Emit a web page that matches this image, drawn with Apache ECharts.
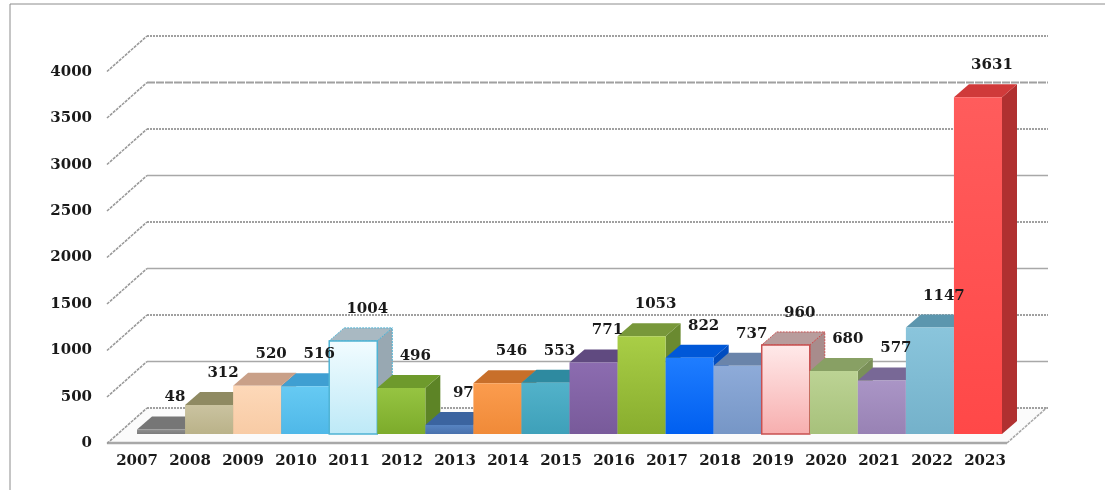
<!DOCTYPE html>
<html>
<head>
<meta charset="utf-8">
<script src="https://cdn.jsdelivr.net/npm/echarts@6/dist/echarts.min.js"></script>
<style>
  html, body { margin: 0; padding: 0; background: #fff; }
  #chart { width: 1105px; height: 490px; }
</style>
</head>
<body>
<div id="chart"></div>
<script>
// 数据
const years = ['2007', '2008', '2009', '2010', '2011', '2012', '2013', '2014', '2015',
  '2016', '2017', '2018', '2019', '2020', '2021', '2022', '2023'];
const values = [48, 312, 520, 516, 1004, 496, 97, 546, 553, 771, 1053, 822, 737, 960, 680, 577, 1147, 3631];
const ticks = [0, 500, 1000, 1500, 2000, 2500, 3000, 3500, 4000];

// 每根柱子的颜色: 正面上/下, 顶面, 侧面, 边框
const barColors = [
  ['#8e8e8e', '#7c7c7c', '#767676', '#646464', null],
  ['#cac3a0', '#bab289', '#8f8a62', '#7d7750', null],
  ['#fdd8b8', '#f8cba5', '#c9a088', '#b08570', null],
  ['#66caf3', '#4fb8e8', '#3f9fd2', '#3388b8', null],
  ['#f2fcff', '#bde9f7', '#a9b9c2', '#98a8b2', '#4fb3d4'],
  ['#96c442', '#7cab2b', '#6e9a2c', '#5d8426', null],
  ['#5784c2', '#4870ac', '#3b64a0', '#335890', null],
  ['#fb9c4e', '#f08a38', '#c86f2a', '#b06020', null],
  ['#52b2ca', '#3ea0b9', '#2e8aa0', '#287a90', null],
  ['#8c6cb0', '#785a9a', '#604a80', '#544070', null],
  ['#a9ce46', '#88ad2e', '#78983a', '#6a8a30', null],
  ['#1f7dff', '#005ff0', '#0058d8', '#004cc0', null],
  ['#8eabd9', '#7696c6', '#6a84aa', '#5e7898', null],
  ['#ffeaea', '#f7aeae', '#b89c9c', '#a88c8c', '#c85050'],
  ['#bcd394', '#a7c17b', '#88a064', '#7a9058', null],
  ['#aa95c6', '#9882b4', '#786896', '#6a5c86', null],
  ['#8ac5dc', '#74b1ca', '#5c96ae', '#4f889e', null],
  ['#ff5c5c', '#ff4848', '#d03a3a', '#b03030', null]
];

// 背景网格线样式(从0到4000)
const gridLineKinds = ['wavy', 'solid', 'wavy', 'solid', 'wavy', 'solid', 'wavy', 'dashed', 'wavy'];

const WALL_DX = 40, WALL_DY = -35.5;   // 前平面 -> 后墙
const BAR_DX = 15, BAR_DY = -13;       // 柱子深度
const FONT = 'DejaVu Serif';

const chart = echarts.init(document.getElementById('chart'));

const labelStyle = { fontFamily: FONT, fontWeight: 'bold', fontSize: 15, color: '#1a1a1a' };

function lineStyleOf(kind) {
  if (kind === 'wavy') return { stroke: '#a0a0a0', lineWidth: 2, lineDash: [2, 1] };
  if (kind === 'dashed') return { stroke: '#a0a0a0', lineWidth: 2, lineDash: [8, 1] };
  return { stroke: '#a8a8a8', lineWidth: 1.6 };
}

// 后墙网格线
function renderWallLine(params, api) {
  const v = api.value(1);
  const p0 = api.coord([0, v]);
  const p1 = api.coord([1, v]);
  const st = lineStyleOf(gridLineKinds[params.dataIndex]);
  return {
    type: 'group',
    children: [
      { type: 'line', shape: { x1: p0[0], y1: p0[1], x2: p1[0], y2: p1[1] }, style: st },
      { type: 'line', shape: { x1: p0[0] - WALL_DX, y1: p0[1] - WALL_DY, x2: p0[0], y2: p0[1] },
        style: { stroke: '#999', lineWidth: 1.6, lineDash: [3, 1] } }
    ]
  };
}

// 地板
function renderFloor(params, api) {
  const a = api.coord([0, 0]);
  const b = api.coord([1, 0]);
  return {
    type: 'group',
    children: [
      { type: 'polygon', shape: { points: [a, b, [b[0] + WALL_DX, b[1] + WALL_DY], [a[0] + WALL_DX, a[1] + WALL_DY]] },
        style: { fill: '#fbfbfb' } },
      { type: 'line', shape: { x1: a[0], y1: a[1], x2: b[0], y2: b[1] },
        style: { stroke: '#a8a8a8', lineWidth: 2.5 } },
      { type: 'line', shape: { x1: b[0], y1: b[1], x2: b[0] + WALL_DX, y2: b[1] + WALL_DY },
        style: { stroke: '#a8a8a8', lineWidth: 1.6, lineDash: [3, 1] } }
    ]
  };
}

// 3D 柱子
function renderBar(params, api) {
  const idx = api.value(0);
  const val = api.value(1);
  const base = api.coord([idx, 0]);
  const top = api.coord([idx, val]);
  const w = api.size([1, 0])[0];
  const l = base[0] - w / 2, r = base[0] + w / 2;
  const yb = base[1], yt = top[1];
  const c = barColors[params.dataIndex];
  const border = c[4];
  return {
    type: 'group',
    children: [
      { type: 'polygon',
        shape: { points: [[r, yt], [r + BAR_DX, yt + BAR_DY], [r + BAR_DX, yb + BAR_DY], [r, yb]] },
        style: { fill: c[3], stroke: border || null, lineWidth: border ? 1 : 0, lineDash: border ? [2, 1] : null } },
      { type: 'polygon',
        shape: { points: [[l, yt], [r, yt], [r + BAR_DX, yt + BAR_DY], [l + BAR_DX, yt + BAR_DY]] },
        style: { fill: c[2], stroke: border || null, lineWidth: border ? 1 : 0, lineDash: border ? [2, 1] : null } },
      { type: 'rect',
        shape: { x: l, y: yt, width: w, height: yb - yt },
        style: {
          fill: new echarts.graphic.LinearGradient(0, 0, 0, 1, [
            { offset: 0, color: c[0] },
            { offset: 1, color: c[1] }
          ]),
          stroke: border || null,
          lineWidth: border ? 1.5 : 0
        } }
    ]
  };
}

// 数值标签 (放在所有柱子之上)
function renderValueLabel(params, api) {
  const idx = api.value(0);
  const val = api.value(1);
  const top = api.coord([idx, val]);
  return {
    type: 'text',
    x: top[0] + 14, y: top[1] - 32,
    style: {
      text: String(val), align: 'center', verticalAlign: 'middle',
      font: 'bold 15px "' + FONT + '"', fill: '#1a1a1a'
    }
  };
}

const option = {
  backgroundColor: '#fff',
  animation: false,
  graphic: [
    { type: 'rect', shape: { x: 10, y: 4, width: 1200, height: 600 },
      style: { fill: 'none', stroke: '#8c8c8c', lineWidth: 1 } }
  ],
  grid: [
    { left: 147, right: 57, top: 36, bottom: 82 },   // 后墙
    { left: 107, right: 98, top: 72, bottom: 47 },   // 前平面
    { left: 137, right: 103, top: 63, bottom: 56 },  // 柱子
    { left: 137, right: 120, top: 72, bottom: 47 }   // 年份标签
  ],
  xAxis: [
    { gridIndex: 0, type: 'value', min: 0, max: 1, show: false },
    { gridIndex: 1, type: 'value', min: 0, max: 1, show: false },
    { gridIndex: 2, type: 'category', data: values.map((v, i) => i), show: false },
    { gridIndex: 3, type: 'category', data: years, boundaryGap: false,
      axisLine: { show: false }, axisTick: { show: false },
      axisLabel: Object.assign({ margin: 11, interval: 0 }, labelStyle) }
  ],
  yAxis: [
    { gridIndex: 0, type: 'value', min: 0, max: 4000, interval: 500, show: false },
    { gridIndex: 1, type: 'value', min: 0, max: 4000, interval: 500,
      axisLine: { show: false }, axisTick: { show: false }, splitLine: { show: false },
      axisLabel: Object.assign({ margin: 15, formatter: v => String(v) }, labelStyle) },
    { gridIndex: 2, type: 'value', min: 0, max: 4000, show: false },
    { gridIndex: 3, type: 'value', min: 0, max: 4000, show: false }
  ],
  series: [
    {
      type: 'custom', xAxisIndex: 1, yAxisIndex: 1, z: 1,
      renderItem: renderFloor,
      data: [[0, 0]]
    },
    {
      type: 'custom', xAxisIndex: 0, yAxisIndex: 0, z: 2,
      renderItem: renderWallLine,
      data: ticks.map(t => [0, t])
    },
    {
      type: 'custom', xAxisIndex: 2, yAxisIndex: 2, z: 5,
      renderItem: renderBar,
      data: values.map((v, i) => [i, v])
    },
    {
      type: 'custom', xAxisIndex: 2, yAxisIndex: 2, z: 8,
      renderItem: renderValueLabel,
      data: values.map((v, i) => [i, v])
    }
  ]
};

chart.setOption(option);
</script>
</body>
</html>
